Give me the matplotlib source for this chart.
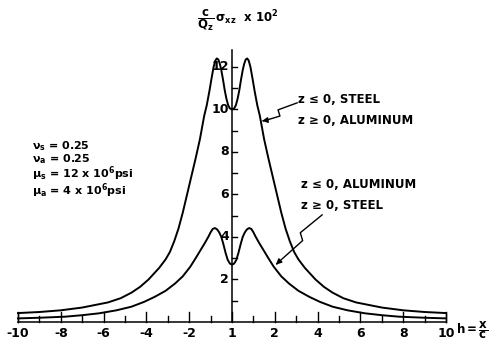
import numpy as np
import matplotlib.pyplot as plt

plt.rcParams['mathtext.default'] = 'regular'

# Curva superior: z <= 0 acero / z >= 0 aluminio
h_sup = [-10.0, -9.0, -8.0, -7.0, -6.5, -5.8, -5.2, -4.7, -4.3, -3.9,
         -3.4, -3.1, -2.9, -2.7, -2.5, -2.3, -2.1, -1.9, -1.7, -1.5,
         -1.3, -1.18, -1.05, -0.95, -0.86, -0.78, -0.71, -0.64, -0.57, -0.5,
         -0.42, -0.34, -0.26, -0.18, -0.1, 0.0,
         0.1, 0.18, 0.26, 0.34, 0.42, 0.5, 0.57, 0.64, 0.71, 0.78,
         0.86, 0.95, 1.05, 1.18, 1.3, 1.5, 1.7, 1.9, 2.1, 2.3,
         2.5, 2.7, 2.9, 3.1, 3.4, 3.9, 4.3, 4.7, 5.2, 5.8,
         6.5, 7.0, 8.0, 9.0, 10.0]
s_sup = [0.42, 0.47, 0.55, 0.68, 0.78, 0.92, 1.12, 1.38, 1.65, 2.0,
         2.55, 2.95, 3.3, 3.8, 4.4, 5.15, 6.0, 6.85, 7.7, 8.6,
         9.7, 10.2, 10.9, 11.5, 12.0, 12.3, 12.4, 12.35, 12.15, 11.85,
         11.4, 10.9, 10.5, 10.2, 10.05, 10.0,
         10.05, 10.2, 10.5, 10.9, 11.4, 11.85, 12.15, 12.35, 12.4, 12.3,
         12.0, 11.5, 10.9, 10.2, 9.7, 8.6, 7.7, 6.85, 6.0, 5.15,
         4.4, 3.8, 3.3, 2.95, 2.55, 2.0, 1.65, 1.38, 1.12, 0.92,
         0.78, 0.68, 0.55, 0.47, 0.42]

# Curva inferior: z <= 0 aluminio / z >= 0 acero
h_inf = [-10.0, -9.0, -7.8, -7.0, -6.2, -5.4, -4.7, -4.1, -3.6, -3.1,
         -2.65, -2.3, -1.95, -1.7, -1.4, -1.25, -1.1, -1.0, -0.9, -0.8,
         -0.7, -0.6, -0.5, -0.4, -0.3, -0.2, -0.1, 0.0,
         0.1, 0.2, 0.3, 0.4, 0.5, 0.6, 0.7, 0.8, 0.9, 1.0,
         1.1, 1.25, 1.4, 1.7, 1.95, 2.3, 2.65, 3.1, 3.6, 4.1,
         4.7, 5.4, 6.2, 7.0, 7.8, 9.0, 10.0]
s_inf = [0.17, 0.2, 0.25, 0.32, 0.41, 0.55, 0.72, 0.95, 1.19, 1.47,
         1.82, 2.15, 2.6, 3.0, 3.5, 3.75, 4.02, 4.22, 4.38, 4.42,
         4.36, 4.22, 4.0, 3.65, 3.25, 2.92, 2.75, 2.7,
         2.75, 2.92, 3.25, 3.65, 4.0, 4.22, 4.36, 4.42, 4.38, 4.22,
         4.02, 3.75, 3.5, 3.0, 2.6, 2.15, 1.82, 1.47, 1.19, 0.95,
         0.72, 0.55, 0.41, 0.32, 0.25, 0.2, 0.17]

xticks = [-10, -8, -6, -4, -2, 0, 2, 4, 6, 8, 10]
xlabels = ['-10', '-8', '-6', '-4', '-2', '1', '2', '4', '6', '8', '10']
yticks = [2, 4, 6, 8, 10, 12]

fig = plt.figure(figsize=(4.94, 3.41), dpi=100)
ax = fig.add_axes([0, 0, 1, 1])
ax.set_xlim(-10.84, 12.24)
ax.set_ylim(-0.894, 15.15)
ax.axis('off')

k = 'black'
font = dict(family='DejaVu Sans', weight='bold', color=k)

# ejes
ax.plot([-10, 10], [0, 0], color=k, lw=1.1)
ax.plot([0, 0], [0, 12.8], color=k, lw=1.1)
for t in range(-10, 11):
    L = 0.47 if t % 2 == 0 else 0.28
    ax.plot([t, t], [0, L], color=k, lw=1.0)
for t in range(1, 13):
    ax.plot([0, 0.23], [t, t], color=k, lw=1.0)
for t, lab in zip(xticks, xlabels):
    ax.text(t, -0.55, lab, ha='center', va='center', fontsize=9, **font)
for t in yticks:
    ax.text(-0.15, t, str(t), ha='right', va='center', fontsize=9, **font)

# curvas
ax.plot(h_sup, s_sup, color=k, lw=1.4, solid_joinstyle='round')
ax.plot(h_inf, s_inf, color=k, lw=1.4, solid_joinstyle='round')
ax.plot([-10, -10], [0, s_sup[0]], color=k, lw=1.0)
ax.plot([10, 10], [0, s_sup[-1]], color=k, lw=1.0)

# titulos
ax.text(0.28, 14.2, r'$\dfrac{c}{Q_z}\,\sigma_{xz}$  x $10^2$', ha='center', va='center',
        fontsize=8.5, **font)
ax.text(10.45, -0.4, r'$h = \dfrac{x}{c}$', ha='left', va='center', fontsize=8.5, **font)

# etiquetas con flecha en zigzag
ax.text(3.08, 10.45, 'z ≤ 0, STEEL', ha='left', va='center', fontsize=8.5, **font)
ax.text(3.08, 9.46, 'z ≥ 0, ALUMINUM', ha='left', va='center', fontsize=8.5, **font)
ax.plot([3.04, 2.15, 2.24, 1.55], [10.31, 9.98, 9.69, 9.48], color=k, lw=1.0)
ax.annotate('', xy=(1.40, 9.46), xytext=(1.6, 9.49),
            arrowprops=dict(arrowstyle='-|>', color=k, lw=1.0, mutation_scale=8))

ax.text(3.22, 6.45, 'z ≤ 0, ALUMINUM', ha='left', va='center', fontsize=8.5, **font)
ax.text(3.22, 5.46, 'z ≥ 0, STEEL', ha='left', va='center', fontsize=8.5, **font)
ax.plot([4.21, 3.19, 3.30, 2.1], [5.04, 4.20, 3.83, 2.75], color=k, lw=1.0)
ax.annotate('', xy=(1.96, 2.61), xytext=(2.2, 2.84),
            arrowprops=dict(arrowstyle='-|>', color=k, lw=1.0, mutation_scale=8))

# parametros (un solo bloque)
params = [r'$\nu_s$ = 0.25', r'$\nu_a$ = 0.25',
          r'$\mu_s$ = 12 x 10$^6$psi', r'$\mu_a$ = 4 x 10$^6$psi']
ax.text(-9.35, 7.17, '\n'.join(params), ha='left', va='center', fontsize=8,
        linespacing=0.9, **font)

fig.savefig('out.png', dpi=100)
